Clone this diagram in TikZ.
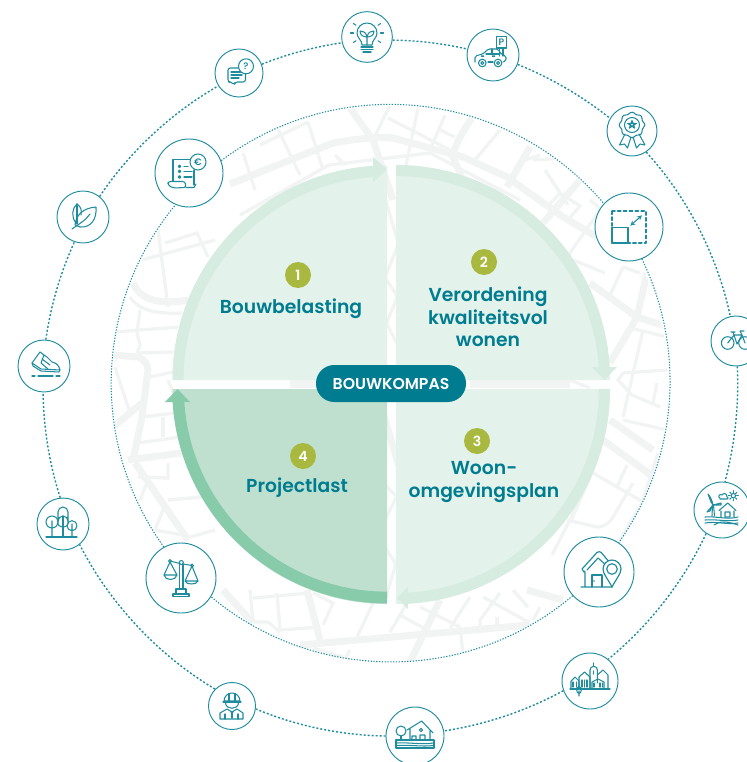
\documentclass[tikz,border=0pt]{standalone}
\usepackage{fontspec}
\usetikzlibrary{calc}
\setmainfont{Poppins}
\newfontfamily\semifont{Poppins SemiBold}
\newfontfamily\medfont{Poppins Medium}
\definecolor{tealtext}{HTML}{007C90}
\definecolor{tealline}{HTML}{1F8C9E}
\definecolor{roadgray}{HTML}{F1F4F3}
\definecolor{quadlight}{HTML}{E3F2EA}
\definecolor{bandlight}{HTML}{D7ECE1}
\definecolor{quaddark}{HTML}{BFE0CF}
\definecolor{banddark}{HTML}{88CBAB}
\definecolor{badgegreen}{HTML}{A9B93F}
\tikzset{
  roadwide/.style={draw=roadgray,line width=6pt},
  roadthin/.style={draw=roadgray,line width=2.8pt},
  iconring/.style={circle,draw=tealline,line width=0.8pt,fill=white,inner sep=0pt},
  outerring/.style={draw=tealline,line width=1.2pt,dash pattern=on 1.7pt off 1.7pt,looseness=0.85},
  innerring/.style={draw=tealline,line width=0.9pt,dash pattern=on 1.1pt off 1.3pt},
  iconline/.style={draw=tealline,line width=0.9pt,line join=round,line cap=round},
  badge/.style={circle,fill=badgegreen,text=white,inner sep=0pt,minimum size=0.78cm,font=\semifont\fontsize{12}{12}\selectfont},
  quadtitle/.style={text=tealtext,align=center,font=\semifont\fontsize{16}{19.2}\selectfont,inner sep=0pt},
  icontext/.style={text=tealtext,inner sep=0pt,font=\medfont\fontsize{8}{8}\selectfont}
}
\begin{document}
\begin{tikzpicture}[x=0.03cm,y=0.03cm]
\useasboundingbox (0,0) rectangle (746,-762);
% map behind the compass
\begin{scope}
\clip (390,-384) circle (278);
\draw [roadwide] (230,-184) -- (333,-143) .. controls (360,-138) and (380,-137) .. (393,-138) -- (463,-157) -- (507,-177) -- (563,-217) -- (597,-237);
\draw [roadwide] (350,-108) -- (373,-140) -- (393,-200);
\draw [roadwide] (472,-118) .. controls (460,-135) and (453,-150) .. (453,-157) -- (463,-180);
\draw [roadwide] (530,-147) -- (507,-187);
\draw [roadwide] (580,-180) -- (543,-223);
\draw [roadwide] (590,-283) -- (637,-317) -- (668,-327);
\draw [roadwide] (647,-273) -- (637,-317) -- (610,-363);
\draw [roadwide] (610,-420) -- (653,-450);
\draw [roadwide] (603,-440) -- (655,-478);
\draw [roadwide] (300,-645) -- (530,-625);
\draw [roadwide] (307,-590) -- (320,-640);
\draw [roadwide] (440,-600) -- (410,-662);
\draw [roadwide] (223,-590) -- (253,-623);
\draw [roadwide] (563,-600) -- (527,-590);
\draw [roadwide] (112,-355) -- (138,-357) .. controls (145,-360) and (148,-365) .. (148,-370) -- (142,-417) -- (133,-460);
\draw [roadwide] (128,-460) -- (182,-453);
\draw [roadwide] (135,-463) -- (188,-540);
\draw [roadwide] (113,-427) -- (142,-403);
\draw [roadwide] (133,-283) .. controls (140,-300) and (160,-305) .. (188,-300);
\draw [roadwide] (470,-384) -- (570,-384);
\draw [roadwide] (290,-384) -- (320,-384);
\draw [roadwide] (380,-403) -- (400,-470);
\draw [roadthin] (380,-180) -- (400,-250);
\draw [roadthin] (400,-240) -- (380,-290);
\draw [roadthin] (380,-270) -- (400,-300);
\draw [roadthin] (400,-290) -- (380,-340);
\draw [roadthin] (380,-310) -- (400,-350);
\draw [roadthin] (380,-480) -- (400,-500);
\draw [roadthin] (400,-490) -- (380,-530);
\draw [roadthin] (380,-540) -- (400,-570);
\draw [roadthin] (400,-550) -- (385,-600);
\draw [roadthin] (570,-380) -- (590,-388);
\draw [roadthin] (130,-297) .. controls (140,-312) and (160,-314) .. (182,-313);
\draw [roadthin] (142,-260) -- (215,-240);
\draw [roadthin] (158,-230) -- (168,-307);
\draw [roadthin] (165,-243) -- (197,-233) -- (208,-257);
\draw [roadthin] (115,-332) -- (178,-327);
\draw [roadthin] (140,-310) -- (137,-333) -- (140,-345) -- (137,-353);
\draw [roadthin] (138,-353) -- (173,-352);
\draw [roadthin] (150,-377) -- (173,-372);
\draw [roadthin] (115,-367) -- (130,-413);
\draw [roadthin] (142,-417) -- (175,-413);
\draw [roadthin] (163,-417) -- (163,-437);
\draw [roadthin] (138,-443) -- (180,-437);
\draw [roadthin] (168,-380) -- (175,-397);
\draw [roadthin] (138,-477) -- (168,-478) -- (168,-463);
\draw [roadthin] (168,-500) -- (202,-497);
\draw [roadthin] (163,-510) -- (155,-530);
\draw [roadthin] (147,-483) -- (140,-500);
\draw [roadthin] (155,-530) -- (182,-535);
\draw [roadthin] (190,-537) -- (215,-530);
\draw [roadthin] (250,-590) -- (253,-622);
\draw [roadthin] (253,-598) -- (310,-593);
\draw [roadthin] (277,-593) -- (280,-630);
\draw [roadthin] (280,-630) -- (320,-627);
\draw [roadthin] (253,-622) -- (268,-622) -- (280,-632);
\draw [roadthin] (313,-593) -- (333,-603) -- (323,-625);
\draw [roadthin] (373,-603) -- (357,-637);
\draw [roadthin] (350,-650) -- (343,-662);
\draw [roadthin] (313,-648) -- (343,-657);
\draw [roadthin] (407,-603) -- (390,-632);
\draw [roadthin] (400,-615) -- (427,-630);
\draw [roadthin] (420,-607) -- (460,-627);
\draw [roadthin] (470,-597) -- (450,-628);
\draw [roadthin] (483,-597) -- (530,-623);
\draw [roadthin] (500,-593) -- (480,-620) -- (480,-628);
\draw [roadthin] (497,-617) -- (497,-627);
\draw [roadthin] (513,-590) -- (528,-607);
\draw [roadthin] (533,-620) -- (540,-607);
\draw [roadthin] (460,-627) -- (463,-653);
\draw [roadthin] (243,-153) -- (255,-190);
\draw [roadthin] (277,-127) -- (300,-175);
\draw [roadthin] (260,-145) -- (308,-122);
\draw [roadthin] (308,-122) -- (323,-170);
\draw [roadthin] (240,-215) -- (329,-165) -- (430,-153) -- (520,-200);
\draw [roadthin] (390,-105) -- (373,-140);
\draw [roadthin] (388,-118) -- (450,-150);
\draw [roadthin] (418,-108) -- (405,-170);
\draw [roadthin] (445,-115) -- (430,-150);
\draw [roadthin] (500,-130) -- (475,-160);
\draw [roadthin] (540,-155) -- (525,-160);
\draw [roadthin] (335,-155) -- (345,-165);
\draw [roadthin] (440,-130) -- (455,-137);
\draw [roadthin] (533,-160) -- (565,-158);
\draw [roadthin] (545,-170) -- (568,-205);
\draw [roadthin] (560,-193) -- (580,-206) -- (568,-220) -- (547,-207) -- cycle;
\draw [roadthin] (600,-210) -- (565,-260);
\draw [roadthin] (590,-200) -- (620,-225);
\draw [roadthin] (623,-267) -- (608,-300);
\draw [roadthin] (623,-267) -- (640,-273);
\draw [roadthin] (573,-260) -- (605,-273);
\draw [roadthin] (630,-328) -- (667,-337);
\draw [roadthin] (643,-330) -- (623,-417);
\draw [roadthin] (623,-373) -- (667,-370);
\draw [roadthin] (623,-373) -- (618,-380) -- (632,-395) -- (660,-407);
\draw [roadthin] (657,-383) -- (653,-403);
\draw [roadthin] (623,-420) -- (667,-430);
\draw [roadthin] (593,-473) -- (643,-502);
\draw [roadthin] (627,-465) -- (617,-487);
\draw [roadthin] (590,-477) -- (570,-523);
\draw [roadthin] (567,-520) -- (597,-527) .. controls (605,-527) and (610,-522) .. (613,-517) -- (633,-483);
\draw [roadthin] (658,-453) -- (642,-503) -- (620,-540);
\draw [roadthin] (552,-555) -- (580,-500);
\end{scope}
% quadrants
\fill [quadlight] (387,-380) -- (387,-165.5) arc (90:180:214.5 and 214.5) -- cycle;
\fill [quadlight] (396,-380) -- (396,-165) arc (90:0:214 and 215) -- cycle;
\fill [quadlight] (396,-389) -- (610,-389) arc (0:-90:214 and 215) -- cycle;
\fill [quaddark] (387,-389) -- (387,-604) arc (270:180:214.5 and 215) -- cycle;
\draw [bandlight,line width=9.4pt] (178,-380) arc (180:92:209 and 209);
\fill [bandlight] (373,-157) -- (387,-169.5) -- (373,-182) -- cycle;
\draw [bandlight,line width=9.4pt] (396,-170.5) arc (90:3:208.5 and 209.5);
\fill [bandlight] (592,-367) -- (617,-367) -- (604.5,-380) -- cycle;
\draw [bandlight,line width=9.4pt] (604.5,-389) arc (0:-87:208.5 and 209.5);
\fill [bandlight] (408,-587) -- (397,-598) -- (408,-609) -- cycle;
\draw [banddark,line width=10pt] (387,-597.5) arc (270:182:209 and 209);
\fill [banddark] (165,-402) -- (177.5,-389) -- (190,-402) -- cycle;
% centre
\node (kompas) at (391,-383.5) [fill=tealtext,text=white,rounded corners=0.55cm,minimum width=4.5cm,minimum height=1.11cm,inner sep=0pt,font=\semifont\fontsize{13.4}{13.4}\selectfont] {BOUWKOMPAS};
\node (badgeone) at (298,-275) [badge] {1};
\node (badgetwo) at (484,-262) [badge] {2};
\node (badgethree) at (477,-441) [badge] {3};
\node (badgefour) at (303,-456) [badge] {4};
\node (belasting) at (291,-308.5) [quadtitle] {Bouwbelasting};
\node (verordening) at (488,-317) [quadtitle] {Verordening\\kwaliteitsvol\\wonen};
\node (omgeving) at (484,-482) [quadtitle] {Woon-\\omgevingsplan};
\node (projectlast) at (297,-488) [quadtitle] {Projectlast};
% ring nodes
\node (bulb) at (367,-37) [iconring,minimum size=1.52cm] {};
\node (car) at (493,-55) [iconring,minimum size=1.56cm] {};
\node (rosette) at (632,-131) [iconring,minimum size=1.5cm] {};
\node (bike) at (736,-341) [iconring,minimum size=1.5cm] {};
\node (windmill) at (722,-510) [iconring,minimum size=1.68cm] {};
\node (town) at (590,-681) [iconring,minimum size=1.68cm] {};
\node (flood) at (415,-736) [iconring,minimum size=1.74cm] {};
\node (worker) at (232,-706) [iconring,minimum size=1.41cm] {};
\node (trees) at (63,-524) [iconring,minimum size=1.56cm] {};
\node (shoe) at (44,-366) [iconring,minimum size=1.56cm] {};
\node (leaf) at (83,-217) [iconring,minimum size=1.56cm] {};
\node (chat) at (239,-73) [iconring,minimum size=1.44cm] {};
\node (receipt) at (189,-173) [iconring,minimum size=2.04cm] {};
\node (sizebox) at (629,-227) [iconring,minimum size=2.04cm] {};
\node (housepin) at (599,-572) [iconring,minimum size=2.1cm] {};
\node (scales) at (181,-578) [iconring,minimum size=2.1cm] {};
\foreach \srcname/\srcang/\dstname/\dstang/\bendang in {bulb/-7/car/167/6.2,car/-21/rosette/150/8.3,rosette/-56/bike/103/15.2,bike/-87/windmill/84/8.75,windmill/236/town/50/12.75,town/200/flood/10/10,flood/180/worker/-7/11,worker/135/trees/-51/16.25,trees/96/shoe/-92/8.6,shoe/86/leaf/-109/8.2,leaf/51/chat/212/13.3,chat/21/bulb/193/6.75}
  \draw [outerring] (\srcname.\srcang) to [bend left=\bendang] (\dstname.\dstang);
\foreach \srcname/\srcang/\dstname/\dstang/\bendang/\loosefac in {receipt/21/sizebox/137/43.2/0.99,sizebox/-68/housepin/56/30.5/0.92,housepin/222/scales/-32/40.1/0.96,scales/119/receipt/247/37.7/0.95}
  \draw [innerring] (\srcname.\srcang) to [bend left=\bendang,looseness=\loosefac] (\dstname.\dstang);
% icons
\begin{scope}[shift={(bulb)}]
\draw [iconline] (-5,-8) .. controls (-5,-3) and (-10,-1) .. (-10,4) arc (180:0:10) .. controls (10,-1) and (5,-3) .. (5,-8) -- cycle;
\draw [iconline] (-6,-10) -- (6,-10) (-6,-12.5) -- (6,-12.5) (-4,-15) -- (4,-15);
\draw [iconline] (0,-8) -- (0,1) (0,0) .. controls (-1,5) and (-4,6) .. (-7,6) .. controls (-7,2) and (-4,0) .. (0,0);
\draw [iconline] (0,0) .. controls (1,5) and (4,6) .. (7,6) .. controls (7,2) and (4,0) .. (0,0);
\foreach \rayang in {0,35,145,180,215,325}
  \draw [iconline] ($(0,4)+(\rayang:13.5)$) -- ($(0,4)+(\rayang:16.5)$);
\end{scope}
\begin{scope}[shift={(chat)}]
\draw [iconline,rounded corners=2pt] (-11,5) -- (6.5,5) -- (6.5,-9) -- (-4,-9) -- (-4.5,-12) -- (-8,-9) -- (-11,-9) -- cycle;
\draw [iconline] (-8,1) -- (3,1) (-8,-2) -- (3,-2) (-8,-5) -- (0,-5);
\draw [iconline,fill=white] (7,6.7) circle (7.5);
\node (chatmark) at (7,6.7) [icontext] {?};
\end{scope}
\begin{scope}[shift={(receipt)}]
\draw [iconline] (-16,-8) -- (-16,13.5) -- (3,13.5);
\draw [iconline] (5,-12) -- (5,3);
\draw [iconline,rounded corners=2pt] (-21,-8.5) -- (-4,-8.5) -- (-3,-14.5) -- (-16,-15) -- (-21,-12) -- cycle;
\draw [iconline] (-3,-14.5) -- (5,-14.5) -- (7,-11);
\foreach \rowy in {6.7,1.7,-4}
  \draw [iconline,fill=tealline] (-9.5,\rowy) circle (1.3);
\draw [iconline] (-5,6.7) -- (-1,6.7) (-5,1.7) -- (3,1.7) (-5,-4) -- (3,-4);
\draw [iconline,fill=white] (9,11) circle (8);
\node (euromark) at (9,11) [icontext] {€};
\end{scope}
\begin{scope}[shift={(car)}]
\draw [iconline] (3.3,7) rectangle (13.3,18.7);
\node (parkmark) at (8.3,13) [icontext] {P};
\draw [iconline] (6.5,7) -- (6.5,-1) (10,7) -- (10,-1);
\draw [iconline,rounded corners=1.5pt] (-18,-7) -- (-18,-1) -- (-10,1) -- (-5,6) -- (5,6) -- (8,1) -- (13,-1) -- (13,-6) -- (10,-7);
\draw [iconline] (-5,-7) -- (0,-7) (-7,1) -- (7,1) (-1,6) -- (-1,1);
\draw [iconline] (-10.7,-8) circle (3.8) (-10.7,-8) circle (1.5) (5,-8) circle (3.8) (5,-8) circle (1.5);
\fill [tealline] (-12,-2) rectangle (-9,-0.5) (-1,-2) rectangle (2,-0.5);
\end{scope}
\begin{scope}[shift={(rosette)}]
\draw [iconline] plot [smooth cycle,samples=48,domain=0:345,variable=\t] ({(12+0.8*cos(8*\t))*cos(\t)},{6+(12+0.8*cos(8*\t))*sin(\t)});
\draw [iconline] (0,6) circle (7.5);
\draw [iconline] (0,10.5) -- ++(-2.6,-7.6) -- ++(7,4.7) -- ++(-8.7,0) -- ++(7,-4.7) -- cycle;
\draw [iconline] (-7,-3) -- (-12.5,-14) -- (-7.5,-13) -- (-4.5,-17) -- (-1,-6);
\draw [iconline] (7,-3) -- (13,-14) -- (8,-13) -- (4.5,-17) -- (1,-6);
\end{scope}
\begin{scope}[shift={(sizebox)}]
\draw [iconline,dash pattern=on 3pt off 2pt] (-17,16) rectangle (17,-16);
\draw [iconline,line width=1pt] (-17,-0.7) rectangle (-1,-16);
\draw [iconline,<->,>=stealth] (1.3,1.3) -- (13,11.7);
\end{scope}
\begin{scope}[shift={(bike)}]
\draw [iconline] (-8.3,-2) circle (6.3) (9,-2) circle (6.3);
\draw [iconline] (-8.3,-2) -- (-2,6) -- (6,6) -- (9,-2) (-2,6) -- (1,-3) -- (6,6) (-3,9) -- (-2,6) (4,10) -- (6,6) (-5,9) -- (-1,9) (4,10) -- (8,10);
\end{scope}
\begin{scope}[shift={(windmill)}]
\draw [iconline] (-10,-6) -- (-9.5,5) (-7.5,-6) -- (-8.5,5);
\draw [iconline] (-9,5) .. controls (-10,10) and (-12,14) .. (-14,16) -- (-11,8) -- cycle;
\draw [iconline] (-9,5) -- (-1,7) -- (-1,5) -- cycle;
\draw [iconline] (-9,5) -- (-15,-2) -- (-12,-1) -- cycle;
\draw [iconline] (-2,12) .. controls (-5,13) and (-2,17) .. (0,15) .. controls (2,18) and (5,16) .. (5,13) .. controls (7,13) and (6,11) .. (5,11) -- (-2,11);
\draw [iconline] (11.3,14.3) circle (2.2);
\foreach \rayang in {0,45,...,315}
  \draw [iconline] ($(11.3,14.3)+(\rayang:3.2)$) -- ($(11.3,14.3)+(\rayang:5)$);
\draw [iconline] (-3,-0.5) -- (5.7,7) -- (14,-0.5) (-1,-1) -- (-1,-7) (12,-1) -- (12,-7) (3,-7) rectangle (8,-2);
\draw [iconline] (-17,-7) .. controls (-5,-6) and (5,-10) .. (16,-7);
\draw [iconline] (-17,-10) .. controls (-5,-9) and (5,-12) .. (16,-10);
\draw [iconline] (-17,-13) .. controls (-5,-11) and (5,-15) .. (16,-13);
\draw [iconline] (-8,-15) .. controls (-3,-11) and (5,-11) .. (16,-15);
\end{scope}
\begin{scope}[shift={(town)}]
\draw [iconline] (-20,-8) -- (20,-8);
\draw [iconline] (-19,-8) -- (-19,0) -- (-15,4) -- (-11,0) -- (-11,-8);
\draw [iconline] (-11,-8) -- (-11,4) -- (-5.5,9) -- (0,4) -- (0,-8);
\draw [iconline] (0,-8) -- (0,11) arc (180:0:3.7) -- (7.4,-2);
\draw [iconline] (3.7,14.7) -- (3.7,18);
\draw [iconline] (7.4,6) -- (13,11) -- (18,6) -- (18,-8);
\draw [iconline] (2,-8) -- (2,-1) -- (8,2) -- (14,-1) -- (14,-8);
\draw [iconline] (-8,-6) -- (-8,1) (-5.5,-6) -- (-5.5,1) (-3,-6) -- (-3,1) (-17,-6) -- (-17,-1) (-13.5,-6) -- (-13.5,-1) (10,-6) -- (10,-2) (12.5,-6) -- (12.5,-2) (4,-6) -- (4,-2) (3.7,7) -- (3.7,10);
\draw [iconline] (-11,-10) -- (-11,-15) (-11,-9) circle (2.3 and 3.5);
\end{scope}
\begin{scope}[shift={(flood)}]
\draw [iconline] (-14,5) circle (5);
\draw [iconline] (-14,0) -- (-14,-4) (-17,-4) -- (-11,-4);
\draw [iconline] (-8,6) -- (6.7,15) -- (18,3) (-5,7) -- (-5,-4) (15,5) -- (15,-4);
\draw [iconline] (6,6) circle (1.6) (-3,-4) -- (-3,0) -- (1,0) -- (1,-4) (5,-4) rectangle (10,1);
\draw [iconline] (-19,-4) -- (19,-4) -- (19,-12) -- (-19,-12) -- cycle;
\draw [iconline] (-18,-7) .. controls (-9,-6) and (9,-9) .. (18,-7);
\draw [iconline] (-18,-9.5) .. controls (-9,-8.5) and (9,-11) .. (18,-9.5);
\end{scope}
\begin{scope}[shift={(worker)}]
\draw [iconline] (-8,5) arc (180:0:8) -- cycle;
\draw [iconline] (-9,4) -- (9,4) (-3,5) -- (-3,12.5) (3,5) -- (3,12.5);
\draw [iconline] (-6.5,3) .. controls (-6,-4) and (6,-4) .. (6.5,3);
\draw [iconline] (-12,-13) -- (-12,-7) -- (-5,-3) -- (0,-6) -- (5,-3) -- (11,-7) -- (11,-13) -- cycle;
\draw [iconline] (-1,-6) -- (1,-6) (0,-6) -- (0,-12) (-7,-8) -- (-7,-13) (6,-8) -- (6,-13);
\end{scope}
\begin{scope}[shift={(scales)}]
\draw [iconline] (-1.5,14) -- (-1.5,-11) (2,14) -- (2,-11);
\draw [iconline] (0.3,15.5) circle (2);
\draw [iconline] (-8,-16) rectangle (8,-18.5) (-5,-16) -- (-5,-11) -- (5,-11) -- (5,-16);
\draw [iconline] (-11,17) -- (-1,14.5) (2,14) -- (11,12.5);
\draw [iconline] (-11,17) circle (1.5) (11,12.5) circle (1.5);
\draw [iconline] (-11,16) -- (-17,3) (-11,16) -- (-4,3) (-17,3) -- (-4,3) (-17,3) .. controls (-16,-3) and (-5,-3) .. (-4,3);
\draw [iconline] (11,12) -- (4,-3) (11,12) -- (17,-3) (4,-3) -- (17,-3) (4,-3) .. controls (5,-7) and (16,-7) .. (17,-3);
\end{scope}
\begin{scope}[shift={(housepin)}]
\draw [iconline,line width=1pt] (-15,0) -- (-17,3) -- (-2,19.5) arc (135:45:3) -- (11,9);
\draw [iconline,line width=1pt] (-12,2) -- (-1,14) -- (7,7);
\draw [iconline,line width=1pt] (-15,0) -- (-14,1) (-14,0) -- (-14,-15) (-18,-15) -- (13,-15);
\draw [iconline,line width=1pt] (-7,-15) -- (-7,-3) -- (3,-3) -- (3,-15);
\draw [iconline,line width=1pt,fill=white] (13,-15) .. controls (9,-7) and (4,-2) .. (4,3) arc (180:0:9) .. controls (22,-2) and (17,-7) .. (13,-15);
\draw [iconline,line width=1pt] (13,3) circle (5.3);
\fill [tealline] (-5,-9) circle (0.8);
\end{scope}
\begin{scope}[shift={(leaf)}]
\draw [iconline] (-11,-12) .. controls (-4,-7) and (3,-3) .. (7,3);
\draw [iconline] (-8,-8) .. controls (-7,2) and (0,9) .. (13,10) .. controls (14,-2) and (8,-11) .. (-3,-10) -- (-8,-8);
\draw [iconline] (-7,-6) .. controls (-12,0) and (-11,9) .. (-6,13) .. controls (-2,10) and (-1,7) .. (-2,2);
\draw [iconline] (-6,13) -- (-6,-7);
\end{scope}
\begin{scope}[shift={(shoe)}]
\draw [iconline] (-12,3) -- (-4,14) -- (0,11) -- (3,9) -- (8,4) .. controls (13,3) and (15,0) .. (16,-4) -- (-3,-3) -- (-12,3);
\draw [iconline] (-12,3) -- (-11,0) -- (-3,-5) -- (15,-6) -- (16,-4);
\draw [iconline] (-2,7) -- (6,1) (0,11) -- (-3,3) -- (4,-3);
\draw [iconline] (-12,-10) -- (-9,-10) (-6,-10) -- (9,-10) (12,-10) -- (16,-10);
\end{scope}
\begin{scope}[shift={(trees)}]
\draw [iconline] (-17,-13) -- (14,-13);
\draw [iconline] (-5,3) arc (180:0:5) -- (5,12) arc (0:180:5) -- cycle;
\draw [iconline] (-5,3) .. controls (-6,-1) and (-3,-3) .. (0,-3) .. controls (3,-3) and (6,-1) .. (5,3);
\draw [iconline] (0,-13) -- (0,8);
\draw [iconline] (-11,2) circle (6) (-11,-13) -- (-11,3);
\draw [iconline] (9,-1.7) circle (5) (9,-13) -- (9,0);
\end{scope}
\end{tikzpicture}
\end{document}
